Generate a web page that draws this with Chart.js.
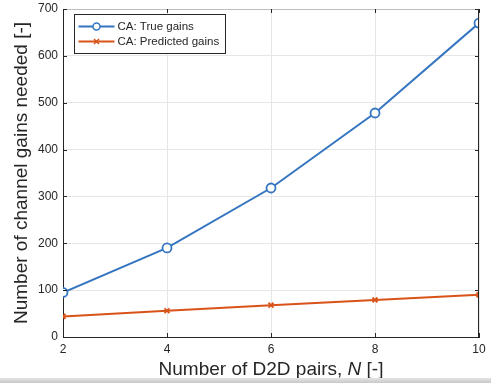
<!DOCTYPE html>
<html>
<head>
<meta charset="utf-8">
<script src="https://cdn.jsdelivr.net/npm/chart.js@4/dist/chart.umd.min.js"></script>
<style>
  html, body { margin: 0; padding: 0; background: #fff; }
  #wrap { position: relative; width: 491px; height: 383px; }
  #bar { position: absolute; left: 0; right: 0; bottom: 0; height: 5px;
         background: linear-gradient(#e4e4e4, #c8c8c8); }
</style>
</head>
<body>
<div id="wrap">
  <canvas id="myChart" width="491" height="383"></canvas>
  <div id="bar"></div>
</div>
<script>
const pairs = [2, 4, 6, 8, 10];
const trueGains = [95, 190, 318, 478, 670];
const predictedGains = [44, 56, 68, 79, 90];
const seriesNames = ['CA: True gains', 'CA: Predicted gains'];
const xTitleParts = ['Number of D2D pairs, ', 'N', ' [-]'];
const blue = '#3575c0';
const orange = '#d95319';
const fontName = "'Liberation Sans', Arial, sans-serif";

Chart.defaults.font.family = fontName;
Chart.defaults.color = '#262626';

const matlabBits = {
    id: 'matlabBits',
    afterDraw(chart) {
        const c = chart.ctx;
        const area = chart.chartArea;
        const xs = chart.scales.x, ys = chart.scales.y;
        c.save();
        // box frame (top / right)
        c.strokeStyle = '#bdbdbd';
        c.lineWidth = 1;
        c.beginPath();
        c.moveTo(area.left, area.top + 0.5);
        c.lineTo(area.right, area.top + 0.5);
        c.stroke();
        c.strokeStyle = '#262626';
        c.beginPath();
        c.moveTo(area.right - 0.5, area.top);
        c.lineTo(area.right - 0.5, area.bottom);
        c.stroke();

        // inward tick marks
        c.beginPath();
        xs.ticks.forEach(t => {
            const px = Math.round(xs.getPixelForValue(t.value)) + 0.5;
            c.moveTo(px, area.bottom); c.lineTo(px, area.bottom - 4);
            c.moveTo(px, area.top); c.lineTo(px, area.top + 4);
        });
        ys.ticks.forEach(t => {
            const py = Math.round(ys.getPixelForValue(t.value)) + 0.5;
            c.moveTo(area.left, py); c.lineTo(area.left + 4, py);
            c.moveTo(area.right, py); c.lineTo(area.right - 4, py);
        });
        c.stroke();

        // x axis title with italic N
        c.fillStyle = '#262626';
        c.textBaseline = 'middle';
        const fonts = ['19px ' + fontName, 'italic 19px ' + fontName, '19px ' + fontName];
        const widths = xTitleParts.map((p, i) => { c.font = fonts[i]; return c.measureText(p).width; });
        let tx = (area.left + area.right) / 2 - widths.reduce((a, b) => a + b, 0) / 2;
        xTitleParts.forEach((p, i) => {
            c.font = fonts[i];
            c.fillText(p, tx, 370);
            tx += widths[i];
        });

        // legend
        const x0 = 74.5, y0 = 14.5, w = 151, h = 39;
        c.fillStyle = '#fff';
        c.fillRect(x0, y0, w, h);
        c.strokeStyle = '#262626';
        c.lineWidth = 1;
        c.strokeRect(x0, y0, w, h);
        const items = [
            { name: seriesNames[0], color: blue, style: 'circle' },
            { name: seriesNames[1], color: orange, style: 'cross' }
        ];
        c.font = '11.5px ' + fontName;
        items.forEach((it, i) => {
            const y = y0 + 12 + i * 15;
            c.strokeStyle = it.color;
            c.lineWidth = 2;
            c.beginPath();
            c.moveTo(x0 + 4, y);
            c.lineTo(x0 + 40, y);
            c.stroke();
            const mx = x0 + 22;
            c.lineWidth = 1.5;
            c.beginPath();
            if (it.style === 'circle') {
                c.arc(mx, y, 3.5, 0, Math.PI * 2);
                c.fillStyle = '#fff';
                c.fill();
            } else {
                c.moveTo(mx - 2.5, y - 2.5); c.lineTo(mx + 2.5, y + 2.5);
                c.moveTo(mx + 2.5, y - 2.5); c.lineTo(mx - 2.5, y + 2.5);
            }
            c.stroke();
            c.fillStyle = '#262626';
            c.fillText(it.name, x0 + 43, y);
        });
        c.restore();
    }
};

const ctx = document.getElementById('myChart').getContext('2d');
const myChart = new Chart(ctx, {
    type: 'line',
    data: {
        datasets: [{
            label: seriesNames[0],
            data: pairs.map((n, i) => ({ x: n, y: trueGains[i] })),
            borderColor: blue,
            backgroundColor: '#fff',
            borderWidth: 2,
            pointStyle: 'circle',
            pointRadius: 4.5,
            pointBorderWidth: 1.8,
            pointBorderColor: blue,
            tension: 0
        }, {
            label: seriesNames[1],
            data: pairs.map((n, i) => ({ x: n, y: predictedGains[i] })),
            borderColor: orange,
            backgroundColor: orange,
            borderWidth: 2,
            pointStyle: 'crossRot',
            pointRadius: 3.5,
            pointBorderWidth: 1.8,
            pointBorderColor: orange,
            tension: 0
        }]
    },
    options: {
        responsive: false,
        animation: false,
        layout: { padding: { top: 9, right: 12, left: 0, bottom: 0 } },
        scales: {
            x: {
                type: 'linear',
                min: 2,
                max: 10,
                afterFit: (s) => { s.height = 46; },
                ticks: { stepSize: 2, font: { size: 12 }, padding: 5 },
                grid: { color: '#e6e6e6', drawTicks: false },
                border: { color: '#262626' }
            },
            y: {
                min: 0,
                max: 700,
                afterFit: (s) => { s.width = 63; s.paddingTop = 0; s.paddingBottom = 0; },
                ticks: { stepSize: 100, font: { size: 12 }, padding: 5 },
                grid: { color: '#e6e6e6', drawTicks: false },
                border: { color: '#262626' },
                title: {
                    display: true,
                    text: 'Number of channel gains needed [-]',
                    font: { size: 19 },
                    padding: { top: 10, bottom: 2 }
                }
            }
        },
        plugins: {
            legend: { display: false },
            tooltip: { enabled: false }
        }
    },
    plugins: [matlabBits]
});
</script>
</body>
</html>
